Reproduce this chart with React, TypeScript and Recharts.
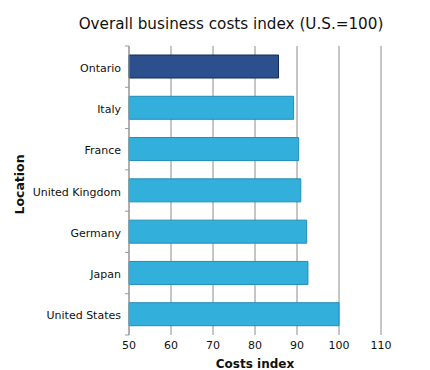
import { BarChart, Bar, XAxis, YAxis, CartesianGrid, Cell, Label } from "recharts";

const locations = [
  "Ontario",
  "Italy",
  "France",
  "United Kingdom",
  "Germany",
  "Japan",
  "United States",
];
const costs = [85.6, 89.2, 90.4, 90.9, 92.3, 92.6, 100.0];
const xTicks = [50, 60, 70, 80, 90, 100, 110];

const FILL = "#33afdc";
const STROKE = "#1f8db6";
const HIGHLIGHT_FILL = "#2c4f8d";
const HIGHLIGHT_STROKE = "#0f2a5e";

const FONT = "'DejaVu Sans', sans-serif";

const CHART_W = 430;
const CHART_H = 370;
const MARGIN = { top: 46, right: 49, bottom: 0, left: 0 };
const X_AXIS_H = 35;
const PLOT_H = CHART_H - MARGIN.top - MARGIN.bottom - X_AXIS_H;
const BAND = PLOT_H / locations.length;

const data = locations.map((name, i) => ({ name, value: costs[i] }));

// category label plus a tick mark on the band boundary above it
function LocationTick(props: any) {
  const { x, y, payload, index } = props;
  const axisX = x + 8;
  const top = y - BAND / 2;
  return (
    <g>
      <line x1={axisX - 4} x2={axisX} y1={top} y2={top} stroke="#999" />
      {index === locations.length - 1 && (
        <line x1={axisX - 4} x2={axisX} y1={y + BAND / 2} y2={y + BAND / 2} stroke="#999" />
      )}
      <text x={x} y={y} dy={5} textAnchor="end" fontSize={11} fontFamily={FONT} fill="#111">
        {payload.value}
      </text>
    </g>
  );
}

export default function App() {
  return (
    <div style={{ position: "absolute", left: 0, top: 0, width: CHART_W, height: CHART_H, background: "#fff" }}>
      <div
        style={{
          position: "absolute",
          left: 0,
          top: 15,
          width: 462,
          textAlign: "center",
          fontFamily: FONT,
          fontSize: 15.2,
          color: "#111",
        }}
      >
        Overall business costs index (U.S.=100)
      </div>
      <BarChart
        width={CHART_W}
        height={CHART_H}
        data={data}
        layout="vertical"
        margin={MARGIN}
        barSize={23}
      >
        <CartesianGrid horizontal={false} stroke="#8c8c8c" />
        <XAxis
          type="number"
          domain={[50, 110]}
          ticks={xTicks}
          axisLine={false}
          tickLine={false}
          height={X_AXIS_H}
          tick={{ fontSize: 11, fontFamily: FONT, fill: "#111" }}
          tickMargin={0}
        >
          <Label
            value="Costs index"
            position="insideBottom"
            offset={2}
            style={{ fontSize: 12, fontWeight: "bold", fontFamily: FONT, fill: "#111" }}
          />
        </XAxis>
        <YAxis
          type="category"
          dataKey="name"
          width={129}
          axisLine={{ stroke: "#999" }}
          tickLine={false}
          tick={<LocationTick />}
        >
          <Label
            value="Location"
            angle={-90}
            position="insideLeft"
            offset={20}
            dy={-6}
            style={{ fontSize: 12.5, fontWeight: "bold", fontFamily: FONT, fill: "#111", textAnchor: "middle" }}
          />
        </YAxis>
        <Bar dataKey="value" isAnimationActive={false} strokeWidth={1}>
          {data.map((d, i) => (
            <Cell
              key={d.name}
              fill={i === 0 ? HIGHLIGHT_FILL : FILL}
              stroke={i === 0 ? HIGHLIGHT_STROKE : STROKE}
            />
          ))}
        </Bar>
      </BarChart>
    </div>
  );
}
